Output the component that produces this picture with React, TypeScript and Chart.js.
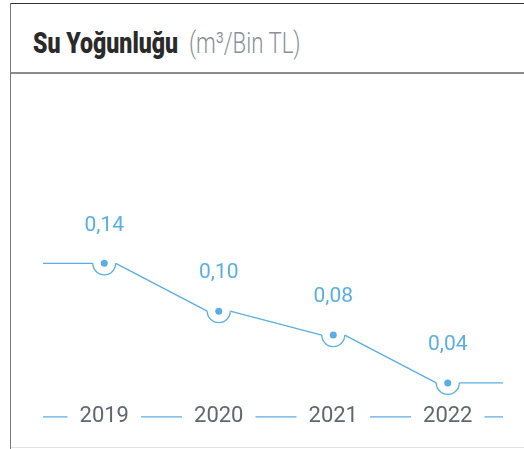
import React, { useEffect, useRef } from "react";
import { Chart, registerables } from "chart.js";

Chart.register(...registerables);

const years = ["2019", "2020", "2021", "2022"];
const intensity = [0.14, 0.1, 0.08, 0.04];
const yMin = 0.0344;
const yMax = 0.2983;

const BLUE = "#5aaee6";
const GRAY = "#5f6770";

const fmt = (v: number) => v.toFixed(2).replace(".", ",");

const decor = {
  id: "decor",
  afterDatasetsDraw(chart: any) {
    const ctx = chart.ctx as CanvasRenderingContext2D;
    const meta = chart.getDatasetMeta(0);
    const pts = meta.data.map((p: any) => ({ x: p.x, y: p.y }));
    const area = chart.chartArea;
    const R = 11.5;
    ctx.save();
    ctx.strokeStyle = BLUE;
    ctx.lineWidth = 1.3;
    ctx.beginPath();
    ctx.moveTo(area.left - 4, pts[0].y);
    ctx.lineTo(pts[0].x - R, pts[0].y);
    for (let i = 0; i < pts.length - 1; i++) {
      ctx.moveTo(pts[i].x + R, pts[i].y);
      ctx.lineTo(pts[i + 1].x - R, pts[i + 1].y);
    }
    const last = pts[pts.length - 1];
    ctx.moveTo(last.x + R, last.y);
    ctx.lineTo(area.right - 2, last.y);
    ctx.stroke();
    pts.forEach((p: any) => {
      ctx.beginPath();
      ctx.arc(p.x, p.y, R, 0, Math.PI);
      ctx.stroke();
      ctx.beginPath();
      ctx.fillStyle = BLUE;
      ctx.arc(p.x, p.y, 3.5, 0, Math.PI * 2);
      ctx.fill();
    });
    ctx.fillStyle = BLUE;
    ctx.font = "21px Roboto";
    ctx.textAlign = "center";
    ctx.textBaseline = "middle";
    pts.forEach((p: any, i: number) => {
      ctx.fillText(fmt(intensity[i]), p.x, p.y - 38);
    });
    ctx.restore();
  },
  afterDraw(chart: any) {
    const ctx = chart.ctx as CanvasRenderingContext2D;
    const xs = chart.scales.x;
    const area = chart.chartArea;
    const pad = 14;
    const lh = 22 * 1.2;
    const y = xs.top + pad + lh / 2;
    ctx.save();
    ctx.font = "22px Roboto";
    ctx.strokeStyle = BLUE;
    ctx.lineWidth = 1.3;
    const gap = 12;
    let start = area.left - 4;
    ctx.beginPath();
    years.forEach((lab, i) => {
      const cx = xs.getPixelForValue(i);
      const w = ctx.measureText(lab).width;
      ctx.moveTo(start, y);
      ctx.lineTo(cx - w / 2 - gap, y);
      start = cx + w / 2 + gap;
    });
    ctx.moveTo(start, y);
    ctx.lineTo(area.right - 2, y);
    ctx.stroke();
    ctx.restore();
  },
};

function ChartBox() {
  const ref = useRef<HTMLCanvasElement | null>(null);
  useEffect(() => {
    if (!ref.current) return;
    const chart = new Chart(ref.current, {
      type: "line",
      data: {
        labels: years,
        datasets: [
          {
            data: intensity,
            showLine: false,
            pointRadius: 0,
            borderColor: BLUE,
            backgroundColor: BLUE,
          },
        ],
      },
      options: {
        responsive: false,
        animation: false,
        events: [],
        layout: { padding: { left: 36, right: 19, top: 0, bottom: 2 } },
        plugins: { legend: { display: false }, tooltip: { enabled: false } },
        scales: {
          x: {
            offset: true,
            grid: { display: false, drawTicks: false },
            border: { display: false },
            ticks: {
              color: GRAY,
              font: { family: "Roboto", size: 22 },
              padding: 14,
              maxRotation: 0,
            },
          },
          y: {
            display: false,
            min: yMin,
            max: yMax,
          },
        },
      },
      plugins: [decor],
    });
    return () => chart.destroy();
  }, []);
  return <canvas ref={ref} width={513} height={372} />;
}

export default function App() {
  return (
    <div
      style={{
        position: "fixed",
        left: 0,
        top: 0,
        width: 524,
        height: 449,
        background: "#fff",
        overflow: "hidden",
      }}
    >
      <div style={{ position: "absolute", left: 10, top: 3, width: 514, height: 1, background: "#333" }} />
      <div style={{ position: "absolute", left: 10, top: 3, width: 1, height: 446, background: "#777" }} />
      <div style={{ position: "absolute", left: 11, top: 72, width: 513, height: 2, background: "#8c8c8c" }} />
      <div style={{ position: "absolute", left: 11, top: 447, width: 513, height: 1, background: "#e2e2e2" }} />
      <div
        style={{
          position: "absolute",
          left: 33,
          top: 28,
          fontSize: 30,
          lineHeight: 1,
          whiteSpace: "nowrap",
          fontFamily: "Roboto, sans-serif",
          fontWeight: 900,
          color: "#2a2a2a",
          transform: "scaleX(0.77)",
          transformOrigin: "left top",
        }}
      >
        Su Yoğunluğu
      </div>
      <div
        style={{
          position: "absolute",
          left: 189,
          top: 28,
          fontSize: 30,
          lineHeight: 1,
          whiteSpace: "nowrap",
          fontFamily: "Roboto, sans-serif",
          fontWeight: 300,
          color: "#8a9199",
          transform: "scaleX(0.74)",
          transformOrigin: "left top",
        }}
      >
        (m³/Bin TL)
      </div>
      <div style={{ position: "absolute", left: 11, top: 74 }}>
        <ChartBox />
      </div>
    </div>
  );
}
